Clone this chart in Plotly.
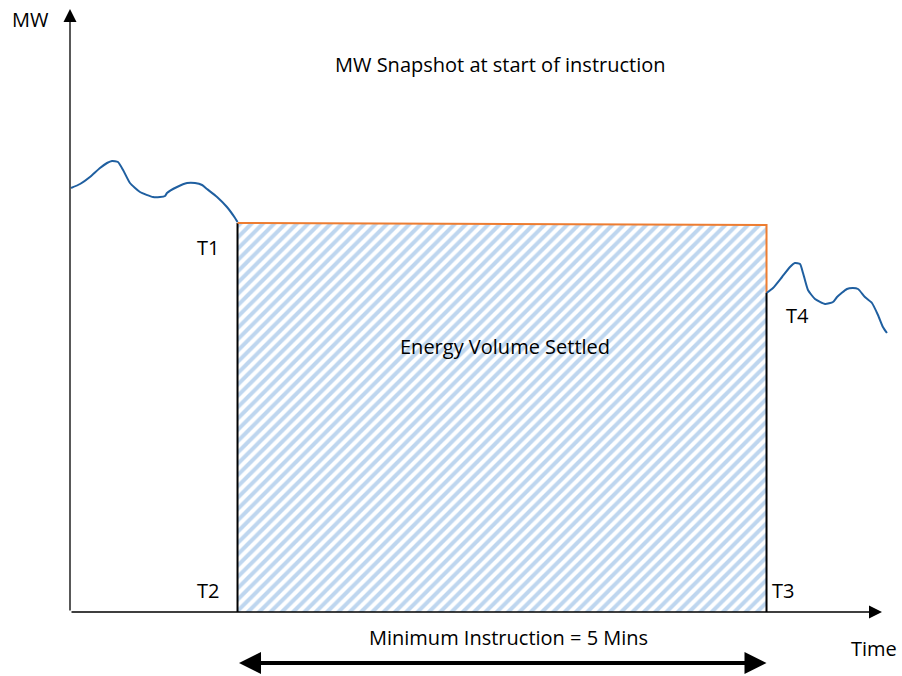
import plotly.graph_objects as go

# ---- data (time in seconds, power in MW) ----
left_t = [0.6, 5.7, 11.3, 17.0, 21.0, 23.8, 27.2, 30.1, 34.0, 39.7, 47.1, 51.0, 53.9, 55.0,
          60.7, 66.4, 70.9, 74.9, 77.7, 83.4, 89.0, 93.6, 95.0]
left_mw = [212, 214, 217.5, 222, 224.5, 225.5, 225, 221, 214.5, 210, 207.5, 207.5, 208, 209.5,
           212.5, 214.5, 214.5, 213.5, 211.5, 207.5, 202.5, 197, 195]
right_t = [395, 398.7, 403.8, 408.3, 411.1, 414.0, 415.7, 418.5, 422.5, 428.2, 432.7, 435.0,
           440.6, 444.0, 446.9, 450.8, 454.8, 458.2, 461.0, 463.3]
right_mw = [159.5, 162, 167.5, 172.5, 174.5, 174, 169.5, 161, 156.5, 154, 155, 157.5,
            161.5, 162, 161.5, 157.5, 154.5, 148.5, 142.5, 139.5]
instr_t = [95, 395]          # T1/T2 and T3/T4
instr_mw = [194.5, 193.5]    # MW snapshot level at start and end
axis_t_max = 460.5
axis_mw_max = 301.5
arrow_mw = -25.5

BLUE = "#1F5FA0"
ORANGE = "#ED7D31"
FONT = "Open Sans"

W, H = 902, 676

fig = go.Figure()

# hatched settled-energy area
fig.add_trace(go.Scatter(
    x=[instr_t[0], instr_t[0], instr_t[1], instr_t[1], instr_t[0]],
    y=[0, instr_mw[0], instr_mw[1], 0, 0],
    mode="none", fill="toself", fillcolor="white",
    fillpattern=dict(shape="/", fgcolor="#7DAEE0", bgcolor="white", size=8, solidity=0.5),
    hoverinfo="skip", showlegend=False))

# edges of the box
fig.add_trace(go.Scatter(x=[instr_t[0], instr_t[0]], y=[0, instr_mw[0]], mode="lines",
                         line=dict(color="black", width=2), showlegend=False))
fig.add_trace(go.Scatter(x=[instr_t[1], instr_t[1]], y=[0, right_mw[0]], mode="lines",
                         line=dict(color="black", width=2), showlegend=False))
fig.add_trace(go.Scatter(x=[instr_t[0], instr_t[1], instr_t[1]],
                         y=[instr_mw[0], instr_mw[1], right_mw[0]], mode="lines",
                         line=dict(color=ORANGE, width=2), showlegend=False))

# metered MW curves
fig.add_trace(go.Scatter(x=left_t, y=left_mw, mode="lines",
                         line=dict(color=BLUE, width=2, shape="spline", smoothing=0.5),
                         showlegend=False))
fig.add_trace(go.Scatter(x=right_t, y=right_mw, mode="lines",
                         line=dict(color=BLUE, width=2, shape="spline", smoothing=0.5),
                         showlegend=False))

k = 300 / 529.0  # seconds per pixel
X0 = 70           # pixel of t = 0
Y0 = 612          # pixel of MW = 0
fig.update_xaxes(range=[-X0 * k, (W - X0) * k], visible=False)
fig.update_yaxes(range=[-(H - Y0) / 2.0, Y0 / 2.0], visible=False)

# axes with arrows
fig.add_annotation(x=axis_t_max, y=0, ax=0, ay=0, xref="x", yref="y", axref="x", ayref="y",
                   showarrow=True, arrowhead=2, arrowsize=2, arrowwidth=1.3, arrowcolor="black",
                   text="")
fig.add_annotation(x=0, y=axis_mw_max, ax=0, ay=0, xref="x", yref="y", axref="x", ayref="y",
                   showarrow=True, arrowhead=2, arrowsize=2, arrowwidth=1.3, arrowcolor="black",
                   text="")
# duration double arrow
fig.add_annotation(x=instr_t[1], y=arrow_mw, ax=instr_t[0], ay=arrow_mw,
                   xref="x", yref="y", axref="x", ayref="y",
                   showarrow=True, arrowhead=2, startarrowhead=2, arrowside="end+start",
                   arrowsize=1.1, startarrowsize=1.1, arrowwidth=4, arrowcolor="black", text="")

def label(text, px, py):
    fig.add_annotation(x=(px - X0) * k, y=(Y0 - py) / 2.0, xref="x", yref="y", text=text,
                       showarrow=False, font=dict(family=FONT, size=20, color="black"),
                       xanchor="center", yanchor="middle")

label("MW", 30, 19)
label("MW Snapshot at start of instruction", 500, 64)
label("T1", 208, 247)
label("T4", 797, 315)
label("Energy Volume Settled", 505, 346)
label("T2", 208, 590)
label("T3", 783, 590)
label("Minimum Instruction = 5 Mins", 508, 637)
label("Time", 874, 648)

fig.update_layout(width=W, height=H, margin=dict(l=0, r=0, t=0, b=0),
                  paper_bgcolor="white", plot_bgcolor="white", showlegend=False)

fig.write_html("out.html", config={"displayModeBar": False},
               post_script="document.body.style.margin='0';document.body.style.overflow='hidden';")
